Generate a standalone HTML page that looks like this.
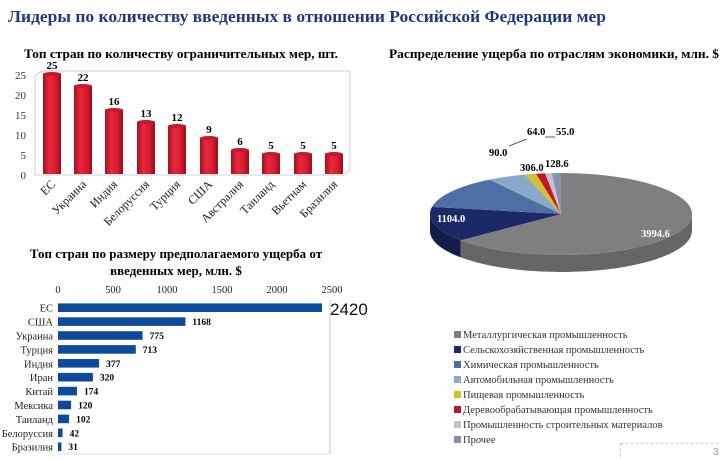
<!DOCTYPE html>
<html><head><meta charset="utf-8"><style>
body{margin:0;width:720px;height:459px;background:#fff;overflow:hidden}
svg{display:block}
</style></head><body>
<svg width="720" height="459" viewBox="0 0 720 459" xmlns="http://www.w3.org/2000/svg" font-family="Liberation Serif, serif">
<defs>
<linearGradient id="rb" x1="0" x2="1" y1="0" y2="0">
<stop offset="0" stop-color="#a50f1e"/><stop offset="0.35" stop-color="#e8283a"/><stop offset="0.7" stop-color="#d71d30"/><stop offset="1" stop-color="#9a0c1a"/>
</linearGradient>
</defs>
<text x="8" y="22" font-size="17" font-weight="bold" fill="#1f3a7a" textLength="598" lengthAdjust="spacingAndGlyphs">Лидеры по количеству введенных в отношении Российской Федерации мер</text>

<!-- chart 1 -->
<text x="181" y="58" font-size="13" font-weight="bold" text-anchor="middle" textLength="314" lengthAdjust="spacingAndGlyphs">Топ стран по количеству ограничительных мер, шт.</text>
<path d="M35 175 L35 76 L42 71 L350 71 L350 170 L343 175 Z" fill="none" stroke="#d0d0d0"/>
<g font-size="11" fill="#333" text-anchor="end">
<text x="26" y="179">0</text><text x="26" y="159">5</text><text x="26" y="139">10</text><text x="26" y="119">15</text><text x="26" y="99">20</text><text x="26" y="79">25</text>
</g>
<g fill="url(#rb)">
<rect x="43" y="74" width="18" height="100"/>
<rect x="74" y="86" width="18" height="88"/>
<rect x="105" y="110" width="18" height="64"/>
<rect x="137" y="122" width="18" height="52"/>
<rect x="168" y="126" width="18" height="48"/>
<rect x="200" y="138" width="18" height="36"/>
<rect x="231" y="150" width="18" height="24"/>
<rect x="262" y="154" width="18" height="20"/>
<rect x="294" y="154" width="18" height="20"/>
<rect x="325" y="154" width="18" height="20"/>
</g>
<g fill="#c8182b">
<ellipse cx="52" cy="74" rx="9" ry="2"/><ellipse cx="83" cy="86" rx="9" ry="2"/><ellipse cx="114" cy="110" rx="9" ry="2"/><ellipse cx="146" cy="122" rx="9" ry="2"/><ellipse cx="177" cy="126" rx="9" ry="2"/><ellipse cx="209" cy="138" rx="9" ry="2"/><ellipse cx="240" cy="150" rx="9" ry="2"/><ellipse cx="271" cy="154" rx="9" ry="2"/><ellipse cx="303" cy="154" rx="9" ry="2"/><ellipse cx="334" cy="154" rx="9" ry="2"/>
</g>
<g font-size="11" font-weight="bold" text-anchor="middle">
<text x="52" y="69">25</text><text x="83" y="81">22</text><text x="114" y="105">16</text><text x="146" y="117">13</text><text x="177" y="121">12</text><text x="209" y="133">9</text><text x="240" y="145">6</text><text x="271" y="149">5</text><text x="303" y="149">5</text><text x="334" y="149">5</text>
</g>
<g font-size="12" text-anchor="end" fill="#222">
<text transform="translate(56,185) rotate(-45)">ЕС</text>
<text transform="translate(87,185) rotate(-45)">Украина</text>
<text transform="translate(118,185) rotate(-45)">Индия</text>
<text transform="translate(150,185) rotate(-45)">Белоруссия</text>
<text transform="translate(181,185) rotate(-45)">Турция</text>
<text transform="translate(213,185) rotate(-45)">США</text>
<text transform="translate(244,185) rotate(-45)">Австралия</text>
<text transform="translate(275,185) rotate(-45)">Таиланд</text>
<text transform="translate(307,185) rotate(-45)">Вьетнам</text>
<text transform="translate(338,185) rotate(-45)">Бразилия</text>
</g>

<!-- chart 2 -->
<text x="176" y="258" font-size="13" font-weight="bold" text-anchor="middle">Топ стран по размеру предполагаемого ущерба от</text>
<text x="176" y="275" font-size="13" font-weight="bold" text-anchor="middle">введенных мер, млн. $</text>
<g font-size="10.5" fill="#222" text-anchor="middle">
<text x="58" y="293">0</text><text x="113" y="293">500</text><text x="167" y="293">1000</text><text x="222" y="293">1500</text><text x="277" y="293">2000</text><text x="332" y="293">2500</text>
</g>
<line x1="330" y1="300" x2="330" y2="454" stroke="#c8c8c8"/>
<line x1="58" y1="454" x2="330" y2="454" stroke="#e0e0e0"/>
<g fill="#0d4a9c">
<rect x="58" y="303.4" width="264" height="8.6"/>
<rect x="58" y="317.3" width="127.4" height="8.6"/>
<rect x="58" y="331.2" width="84.6" height="8.6"/>
<rect x="58" y="345.1" width="77.8" height="8.6"/>
<rect x="58" y="359.0" width="41.1" height="8.6"/>
<rect x="58" y="372.9" width="34.9" height="8.6"/>
<rect x="58" y="386.8" width="19" height="8.6"/>
<rect x="58" y="400.7" width="13.1" height="8.6"/>
<rect x="58" y="414.6" width="11.1" height="8.6"/>
<rect x="58" y="428.5" width="4.6" height="8.6"/>
<rect x="58" y="442.4" width="3.4" height="8.6"/>
</g>
<g font-size="10.5" text-anchor="end" fill="#222">
<text x="53" y="311.7">ЕС</text><text x="53" y="325.6">США</text><text x="53" y="339.5">Украина</text><text x="53" y="353.4">Турция</text><text x="53" y="367.3">Индия</text><text x="53" y="381.2">Иран</text><text x="53" y="395.1">Китай</text><text x="53" y="409.0">Мексика</text><text x="53" y="422.9">Таиланд</text><text x="53" y="436.8">Белоруссия</text><text x="53" y="450.7">Бразилия</text>
</g>
<g font-size="9.5" font-weight="bold">
<text x="192.4" y="325.1">1168</text><text x="149.6" y="339">775</text><text x="142.8" y="352.9">713</text><text x="106.1" y="366.8">377</text><text x="99.9" y="380.7">320</text><text x="84" y="394.6">174</text><text x="78.1" y="408.5">120</text><text x="76.1" y="422.4">102</text><text x="69.6" y="436.3">42</text><text x="68.4" y="450.2">31</text>
</g>
<text x="330" y="315" font-size="17" font-family="Liberation Sans, sans-serif" fill="#111">2420</text>

<!-- pie -->
<text x="554" y="58" font-size="13" font-weight="bold" text-anchor="middle" textLength="330" lengthAdjust="spacingAndGlyphs">Распределение ущерба по отраслям экономики, млн. $</text>
<path d="M692 214 A131 41 0 0 1 460.66 240.35 L460.66 257.35 A131 41 0 0 0 692 231 Z" fill="#666"/>
<path d="M460.66 240.35 A131 41 0 0 1 430 214 L430 231 A131 41 0 0 0 460.66 257.35 Z" fill="#121d4a"/>
<path d="M561 214 L561 173 A131 41 0 1 1 460.66 240.35 Z" fill="#7f7f7f"/>
<path d="M561 214 L460.66 240.35 A131 41 0 0 1 431.99 206.88 Z" fill="#1b2a66"/>
<path d="M561 214 L431.99 206.88 A131 41 0 0 1 489.66 179.61 Z" fill="#4e6fa3"/>
<path d="M561 214 L489.66 179.61 A131 41 0 0 1 524.89 174.59 Z" fill="#8aa9c8"/>
<path d="M561 214 L524.89 174.59 A131 41 0 0 1 536 173.75 Z" fill="#d2bf2a"/>
<path d="M561 214 L536 173.75 A131 41 0 0 1 545.03 173.31 Z" fill="#c0152a"/>
<path d="M561 214 L545.03 173.31 A131 41 0 0 1 551.86 173.1 Z" fill="#c2c2c8"/>
<path d="M561 214 L551.86 173.1 A131 41 0 0 1 561 173 Z" fill="#8a8fb0"/>
<g font-size="10.5" font-weight="bold">
<text x="641" y="237" fill="#fff">3994.6</text>
<text x="437" y="222" fill="#fff">1104.0</text>
<text x="520" y="171">306.0</text>
<text x="545" y="167">128.6</text>
<text x="489" y="156">90.0</text>
<text x="527" y="135">64.0</text>
<text x="556" y="135">55.0</text>
</g>
<line x1="509" y1="146" x2="527" y2="139" stroke="#333" stroke-width="0.8"/>
<line x1="545" y1="137" x2="555" y2="137" stroke="#333" stroke-width="0.8"/>

<!-- legend -->
<g font-size="10.5" fill="#333">
<rect x="454" y="331" width="7" height="7" fill="#7f7f7f"/><text x="463" y="338">Металлургическая промышленность</text>
<rect x="454" y="346" width="7" height="7" fill="#1b2a66"/><text x="463" y="353">Сельскохозяйственная промышленность</text>
<rect x="454" y="361" width="7" height="7" fill="#4e6fa3"/><text x="463" y="368">Химическая промышленность</text>
<rect x="454" y="376" width="7" height="7" fill="#8aa9c8"/><text x="463" y="383">Автомобильная промышленность</text>
<rect x="454" y="391" width="7" height="7" fill="#d2bf2a"/><text x="463" y="398">Пищевая промышленность</text>
<rect x="454" y="406" width="7" height="7" fill="#c0152a"/><text x="463" y="413">Деревообрабатывающая промышленность</text>
<rect x="454" y="421" width="7" height="7" fill="#c2c2c8"/><text x="463" y="428">Промышленность строительных материалов</text>
<rect x="454" y="436" width="7" height="7" fill="#8a8fb0"/><text x="463" y="443">Прочее</text>
</g>
<rect x="620.5" y="443.5" width="104" height="20" fill="none" stroke="#ccc" stroke-dasharray="3,2"/>
<text x="713" y="455" font-size="10" fill="#999" font-family="Liberation Sans, sans-serif">3</text>
</svg>
</body></html>
